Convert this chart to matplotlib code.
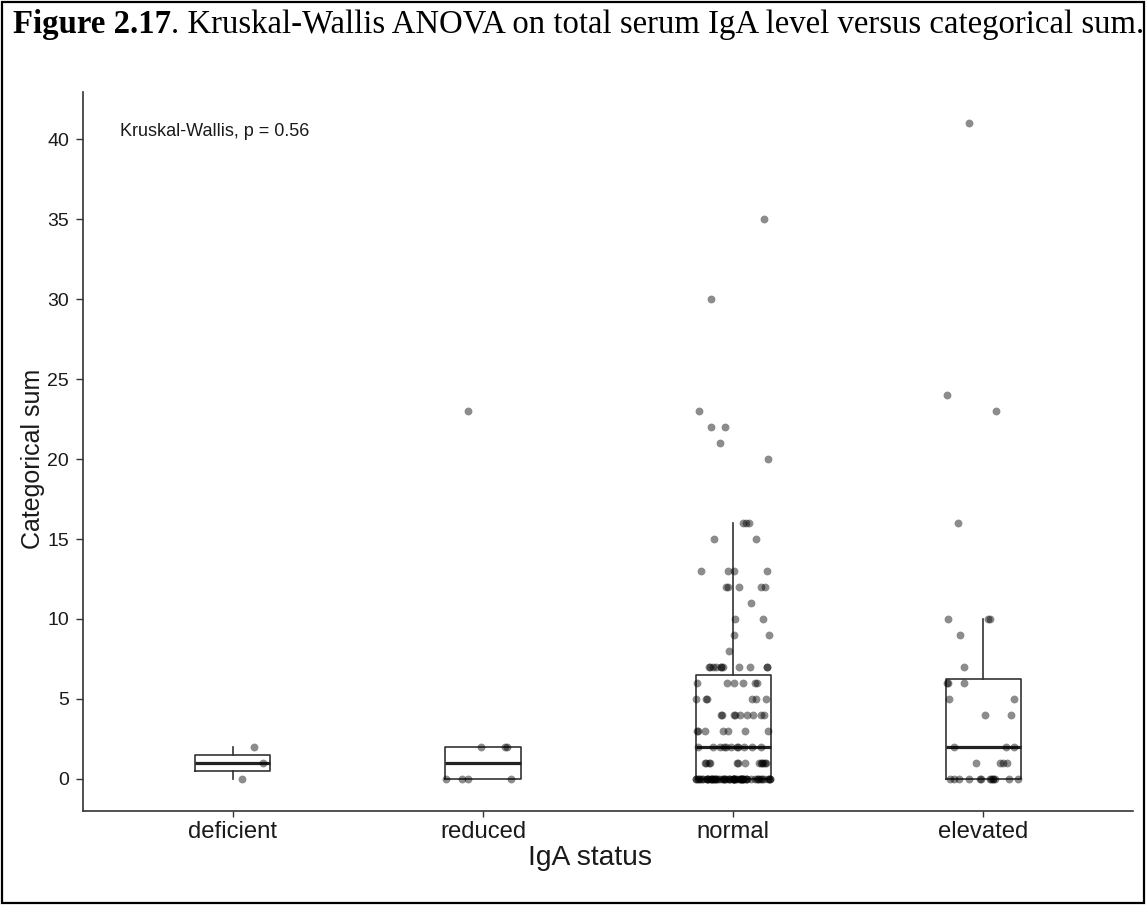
import numpy as np
import matplotlib.pyplot as plt
from matplotlib.patches import Rectangle

plt.rcParams["font.family"] = ["Liberation Sans", "DejaVu Sans"]

# IgA status groups and the categorical sum of each subject
groups = ["deficient", "reduced", "normal", "elevated"]

deficient = [0, 1, 2]
reduced = [0, 0, 0, 0, 2, 2, 2, 23]
normal = ([0] * 61 + [1] * 13 + [2] * 11 + [3] * 7 + [4] * 9 + [5] * 6 + [6] * 6
          + [7] * 11 + [8] + [9] * 2 + [10] * 2 + [11] + [12] * 5 + [13] * 4
          + [15] * 2 + [16] * 3 + [20] + [21] + [22] * 2 + [23] + [30] + [35])
elevated = ([0] * 13 + [1] * 4 + [2] * 3 + [4] * 2 + [5] * 2 + [6] * 3 + [7] + [9]
            + [10] * 3 + [16] + [23] + [24] + [41])

data = [deficient, reduced, normal, elevated]
p_value = 0.56

TEXT_COLOR = "#1a1a1a"
LINE_COLOR = "#333333"

fig = plt.figure(figsize=(11.46, 9.05), dpi=100)
ax = fig.add_axes([0.0724, 0.1039, 0.9163, 0.7944])

positions = np.arange(1, len(groups) + 1)
line_kw = dict(color=LINE_COLOR, linewidth=1.2)
ax.boxplot(data, positions=positions, widths=0.3, showfliers=False,
           showcaps=False, whis=1.5,
           boxprops=line_kw, whiskerprops=line_kw,
           medianprops=dict(color="#222222", linewidth=2.3))

# jittered points, horizontal only
rng = np.random.default_rng(7)
for pos, vals in zip(positions, data):
    vals = np.asarray(vals, dtype=float)
    xj = pos + rng.uniform(-0.15, 0.15, len(vals))
    ax.scatter(xj, vals, s=32, color="black", alpha=0.45, linewidths=0, zorder=3)

ax.set_xlim(0.4, len(groups) + 0.6)
ax.set_ylim(-2, 42.94)
ax.set_xticks(positions)
ax.set_xticklabels(groups, fontsize=17.2, color=TEXT_COLOR)
ax.set_yticks(np.arange(0, 41, 5))
ax.tick_params(axis="y", labelsize=14, colors=LINE_COLOR, labelcolor=TEXT_COLOR,
               length=5, width=1, pad=5)
ax.tick_params(axis="x", colors=LINE_COLOR, labelcolor=TEXT_COLOR, length=4, width=1)
ax.set_xlabel("IgA status", fontsize=20.3, color=TEXT_COLOR)
ax.set_ylabel("Categorical sum", fontsize=18, color=TEXT_COLOR)
ax.xaxis.set_label_coords((590 - 83) / 1050, -0.048)
ax.yaxis.set_label_coords(-0.036, 0.49)
for side in ["top", "right"]:
    ax.spines[side].set_visible(False)
for side in ["left", "bottom"]:
    ax.spines[side].set_color(LINE_COLOR)
    ax.spines[side].set_linewidth(1.2)

ax.text(0.55, 40.5, f"Kruskal-Wallis, p = {p_value}", fontsize=13, color=TEXT_COLOR,
        va="center", ha="left")

# caption with bold figure number
cap_y = 1 - 33 / 905
bold = fig.text(13 / 1146, cap_y, "Figure 2.17", fontsize=23.6, fontweight="bold",
                family="Liberation Serif", va="baseline", ha="left")
fig.canvas.draw()
bb = bold.get_window_extent()
fig.text(bb.x1 / fig.bbox.width, cap_y,
         ". Kruskal-Wallis ANOVA on total serum IgA level versus categorical sum.",
         fontsize=23.6, family="Liberation Serif", va="baseline", ha="left")

# frame around the whole figure
fig.patches.append(Rectangle((2 / 1146, 2 / 905), 1 - 4 / 1146, 1 - 4 / 905,
                             transform=fig.transFigure, fill=False,
                             edgecolor="black", linewidth=1.6))

fig.savefig("out.png", dpi=100)
